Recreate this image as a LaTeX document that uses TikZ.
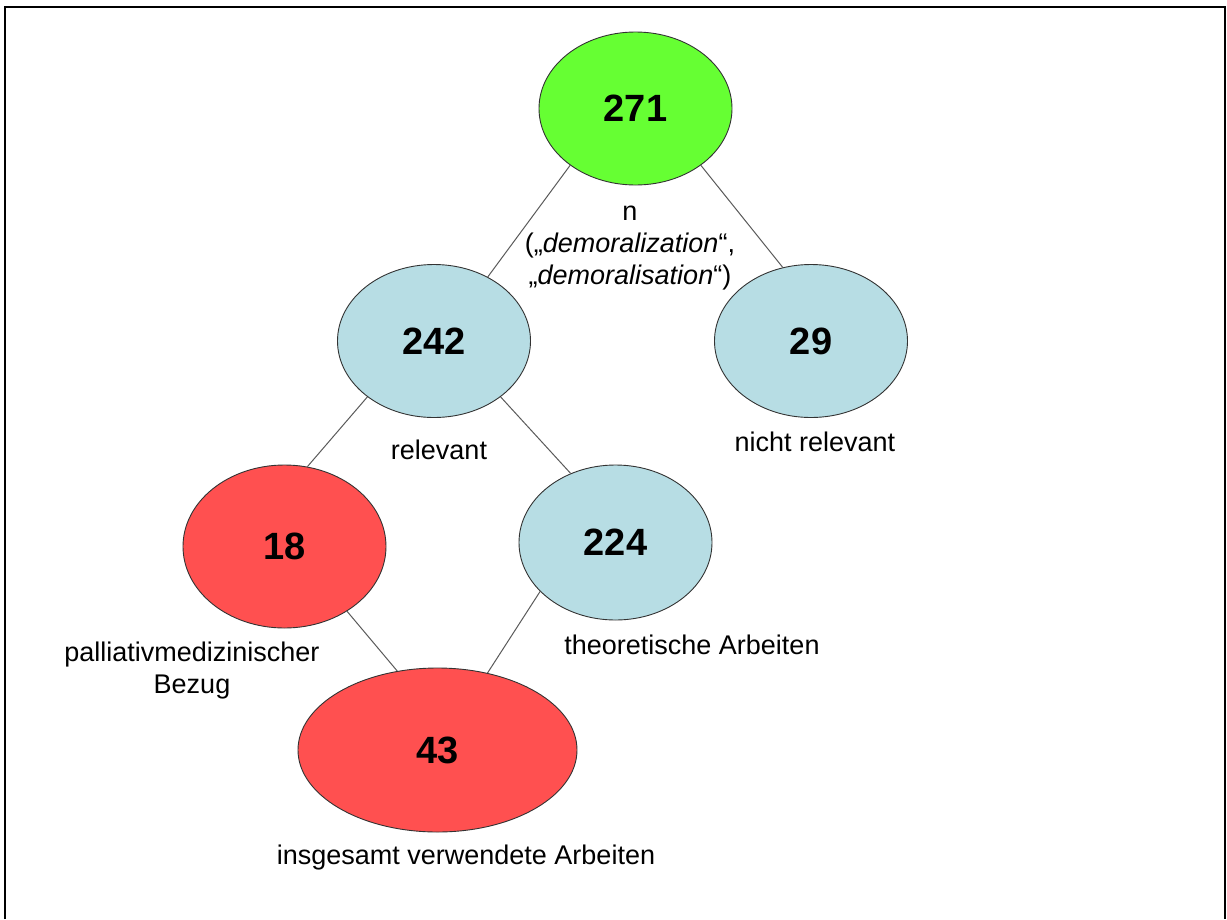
\documentclass[tikz,border=0pt]{standalone}
\usepackage{fontspec}
\setmainfont{Liberation Sans}
\usetikzlibrary{shapes.geometric}
\definecolor{nodegreen}{RGB}{102,255,51}
\definecolor{nodeblue}{RGB}{183,221,228}
\definecolor{nodered}{RGB}{255,80,80}
\definecolor{linkgray}{RGB}{90,90,90}
\begin{document}
\begin{tikzpicture}[x=1pt,y=-1pt,
  bubble/.style={ellipse, draw=black!80, line width=0.9pt, inner sep=0pt,
    minimum width=193pt, minimum height=153pt,
    font=\fontsize{38}{40}\selectfont\bfseries},
  link/.style={draw=linkgray, line width=1pt},
  lbl/.style={font=\fontsize{27}{32}\selectfont, align=center, inner sep=0pt}]
\useasboundingbox (0,0) rectangle (1227,919);
\fill[white] (0,0) rectangle (1227,919);
\draw[line width=2pt] (5,919) -- (5,6.5) -- (1225,6.5) -- (1225,919);

\node[bubble, fill=nodegreen] (n271) at (635.5,108.5) {271};
\node[bubble, fill=nodeblue] (n242) at (434,341) {242};
\node[bubble, fill=nodeblue] (n29) at (811,341) {29};
\node[bubble, fill=nodered, minimum width=203pt, minimum height=163pt] (n18) at (284.5,546.5) {18};
\node[bubble, fill=nodeblue, minimum height=155pt] (n224) at (615.5,542.5) {224};
\node[bubble, fill=nodered, minimum width=279pt, minimum height=164pt] (n43) at (437.5,750) {43};

\draw[link] (n271.221) -- (n242.50);
\draw[link] (n271.319) -- (n29.111);
\draw[link] (n242.220) -- (n18.74);
\draw[link] (n242.320) -- (n224.123);
\draw[link] (n18.314) -- (n43.117);
\draw[link] (n224.213) -- (n43.57);

\node[lbl] (ln) at (630,248) {n\\(„\textit{demoralization}“,\\„\textit{demoralisation}“)};
\node[lbl] (lrel) at (439,450) {relevant};
\node[lbl] (lnrel) at (815,442) {nicht relevant};
\node[lbl] (lpal) at (192,671) {palliativmedizinischer\\Bezug};
\node[lbl] (lth) at (692,645) {theoretische Arbeiten};
\node[lbl] (lins) at (466,858) {insgesamt verwendete Arbeiten};
\end{tikzpicture}
\end{document}
